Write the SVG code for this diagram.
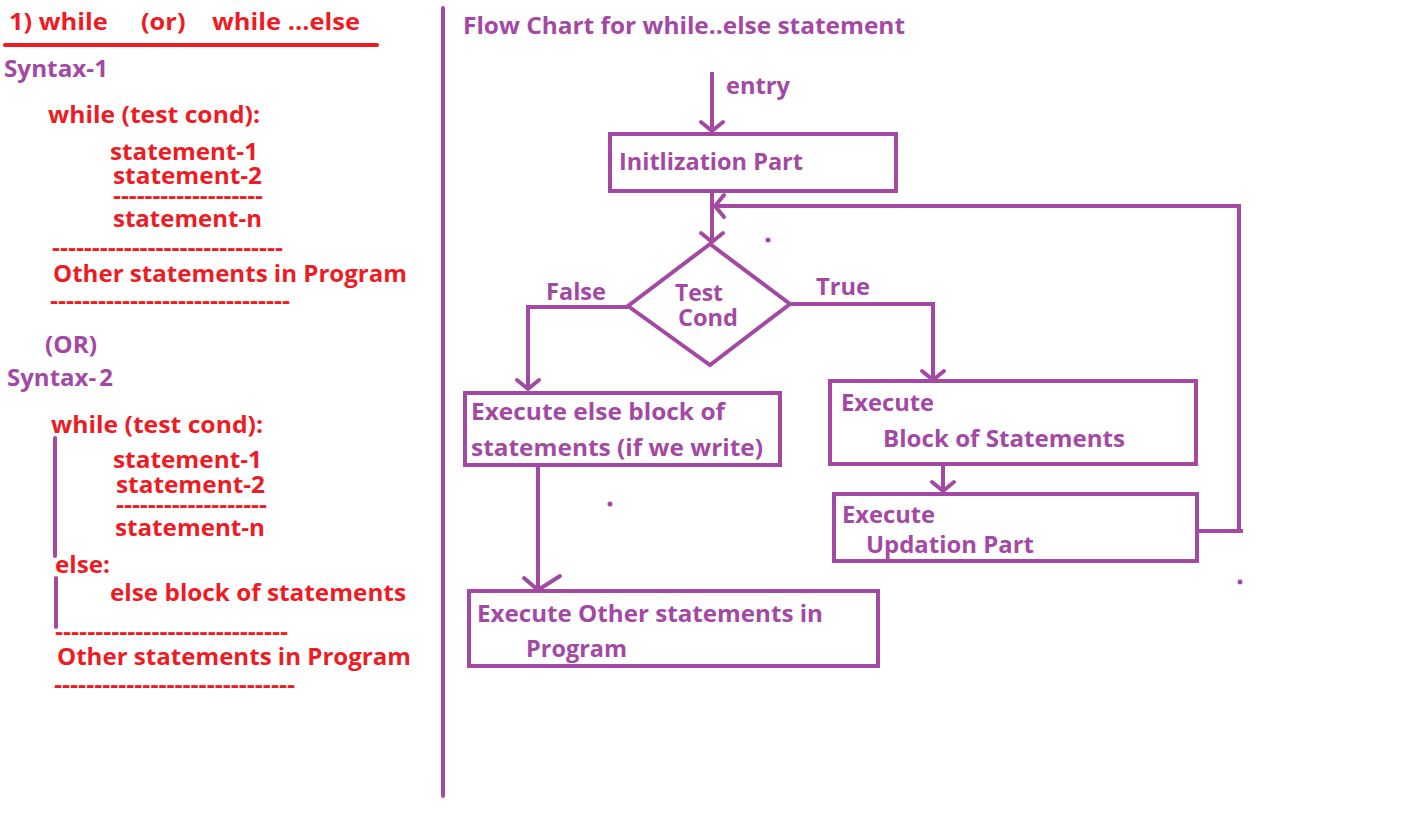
<svg xmlns="http://www.w3.org/2000/svg" width="1414" height="816" viewBox="0 0 1414 816">
<style>
text{font-family:"Open Sans","Liberation Sans",sans-serif;font-weight:bold;font-size:23px}
.r{fill:#ED1C24}
.p{fill:#A349A4}
.box{fill:none;stroke:#A349A4;stroke-width:4}
.ln{fill:none;stroke:#A349A4;stroke-width:4}
.ah{fill:none;stroke:#A349A4;stroke-width:4;stroke-linecap:round;stroke-linejoin:round}
</style>
<defs>
<marker id="arr" markerUnits="userSpaceOnUse" markerWidth="30" markerHeight="30" refX="0" refY="0" viewBox="-15 -15 30 30" orient="auto" overflow="visible">
<path d="M-9,-11 L0,0 L-9,11" fill="none" stroke="#A349A4" stroke-width="4" stroke-linecap="round" stroke-linejoin="round"/>
</marker>
</defs>
<rect width="1414" height="816" fill="#fff"/>
<g id="left-syntax">
<text class="r" x="9" y="30" textLength="351" lengthAdjust="spacingAndGlyphs" xml:space="preserve">1) while     (or)    while ...else</text>
<line x1="5" y1="45" x2="377" y2="45" stroke="#ED1C24" stroke-width="4" stroke-linecap="round"/>
<text class="p" x="4" y="77" textLength="104" lengthAdjust="spacingAndGlyphs">Syntax-1</text>
<text class="r" x="48" y="123" textLength="212" lengthAdjust="spacingAndGlyphs">while (test cond):</text>
<text class="r" x="110" y="160" textLength="148" lengthAdjust="spacingAndGlyphs">statement-1</text>
<text class="r" x="113" y="184" textLength="149" lengthAdjust="spacingAndGlyphs">statement-2</text>
<text class="r" x="113" y="204" textLength="150" lengthAdjust="spacingAndGlyphs">-------------------</text>
<text class="r" x="113" y="227" textLength="149" lengthAdjust="spacingAndGlyphs">statement-n</text>
<text class="r" x="52" y="256" textLength="231" lengthAdjust="spacingAndGlyphs">-----------------------------</text>
<text class="r" x="53" y="282" textLength="354" lengthAdjust="spacingAndGlyphs">Other statements in Program</text>
<text class="r" x="50" y="309" textLength="240" lengthAdjust="spacingAndGlyphs">------------------------------</text>
<text class="p" x="45" y="353" textLength="52" lengthAdjust="spacingAndGlyphs">(OR)</text>
<text class="p" x="7" y="386" textLength="106" lengthAdjust="spacingAndGlyphs">Syntax-<tspan dx="3">2</tspan></text>
<text class="r" x="51" y="433" textLength="212" lengthAdjust="spacingAndGlyphs">while (test cond):</text>
<line x1="55" y1="438" x2="55" y2="556" stroke="#A349A4" stroke-width="4" stroke-linecap="round"/>
<text class="r" x="113" y="468" textLength="149" lengthAdjust="spacingAndGlyphs">statement-1</text>
<text class="r" x="116" y="493" textLength="149" lengthAdjust="spacingAndGlyphs">statement-2</text>
<text class="r" x="116" y="513" textLength="151" lengthAdjust="spacingAndGlyphs">-------------------</text>
<text class="r" x="115" y="536" textLength="150" lengthAdjust="spacingAndGlyphs">statement-n</text>
<text class="r" x="55" y="573" textLength="55" lengthAdjust="spacingAndGlyphs">else:</text>
<line x1="56" y1="578" x2="56" y2="627" stroke="#A349A4" stroke-width="4" stroke-linecap="round"/>
<text class="r" x="110" y="601" textLength="296" lengthAdjust="spacingAndGlyphs">else block of statements</text>
<text class="r" x="55" y="640" textLength="233" lengthAdjust="spacingAndGlyphs">-----------------------------</text>
<text class="r" x="57" y="665" textLength="354" lengthAdjust="spacingAndGlyphs">Other statements in Program</text>
<text class="r" x="54" y="693" textLength="241" lengthAdjust="spacingAndGlyphs">------------------------------</text>
</g>
<g id="divider">
<line x1="443" y1="8" x2="443" y2="796" stroke="#A349A4" stroke-width="4" stroke-linecap="round"/>
</g>
<g id="title">
<text class="p" x="463" y="34" textLength="442" lengthAdjust="spacingAndGlyphs">Flow Chart for while..else statement</text>
</g>
<g id="connectors">
<line class="ln" x1="712" y1="72" x2="712" y2="131" marker-end="url(#arr)"/>
<text class="p" x="726" y="94" textLength="64" lengthAdjust="spacingAndGlyphs">entry</text>
<line class="ln" x1="712" y1="192" x2="712" y2="242" marker-end="url(#arr)"/>
<polyline class="ln" points="1197,531 1243,531"/>
<polyline class="ln" points="1239,531 1239,206 715,206" marker-end="url(#arr)"/>
<polyline class="ln" points="628,307 528,307 528,389" marker-end="url(#arr)"/>
<text class="p" x="546" y="300" textLength="60" lengthAdjust="spacingAndGlyphs">False</text>
<polyline class="ln" points="791,304 933,304 933,380" marker-end="url(#arr)"/>
<text class="p" x="816" y="295" textLength="54" lengthAdjust="spacingAndGlyphs">True</text>
<line class="ln" x1="538" y1="466" x2="538" y2="590"/>
<polyline class="ah" points="524,578 538,590 560,576"/>
<line class="ln" x1="943" y1="465" x2="943" y2="491" marker-end="url(#arr)"/>
<circle cx="768" cy="240" r="2.5" fill="#A349A4"/>
<circle cx="610" cy="504" r="2.5" fill="#A349A4"/>
<circle cx="1240" cy="582" r="2.5" fill="#A349A4"/>
</g>
<g id="node-init">
<rect class="box" x="610" y="134" width="286" height="57"/>
<text class="p" x="619" y="170" textLength="184" lengthAdjust="spacingAndGlyphs">Initlization Part</text>
</g>
<g id="node-test">
<polygon class="box" points="710,244 628,306 710,365 790,304"/>
<text class="p" x="675" y="301" textLength="48" lengthAdjust="spacingAndGlyphs">Test</text>
<text class="p" x="678" y="326" textLength="60" lengthAdjust="spacingAndGlyphs">Cond</text>
</g>
<g id="node-else">
<rect class="box" x="465" y="393" width="315" height="72"/>
<text class="p" x="471" y="420" textLength="254" lengthAdjust="spacingAndGlyphs">Execute else block of</text>
<text class="p" x="471" y="456" textLength="292" lengthAdjust="spacingAndGlyphs">statements (if we write)</text>
</g>
<g id="node-other">
<rect class="box" x="469" y="591" width="409" height="75"/>
<text class="p" x="477" y="622" textLength="346" lengthAdjust="spacingAndGlyphs">Execute Other statements in</text>
<text class="p" x="526" y="657" textLength="101" lengthAdjust="spacingAndGlyphs">Program</text>
</g>
<g id="node-block">
<rect class="box" x="830" y="381" width="366" height="83"/>
<text class="p" x="841" y="411" textLength="93" lengthAdjust="spacingAndGlyphs">Execute</text>
<text class="p" x="883" y="447" textLength="242" lengthAdjust="spacingAndGlyphs">Block of Statements</text>
</g>
<g id="node-update">
<rect class="box" x="834" y="494" width="363" height="67"/>
<text class="p" x="842" y="523" textLength="93" lengthAdjust="spacingAndGlyphs">Execute</text>
<text class="p" x="866" y="553" textLength="168" lengthAdjust="spacingAndGlyphs">Updation Part</text>
</g>
</svg>
